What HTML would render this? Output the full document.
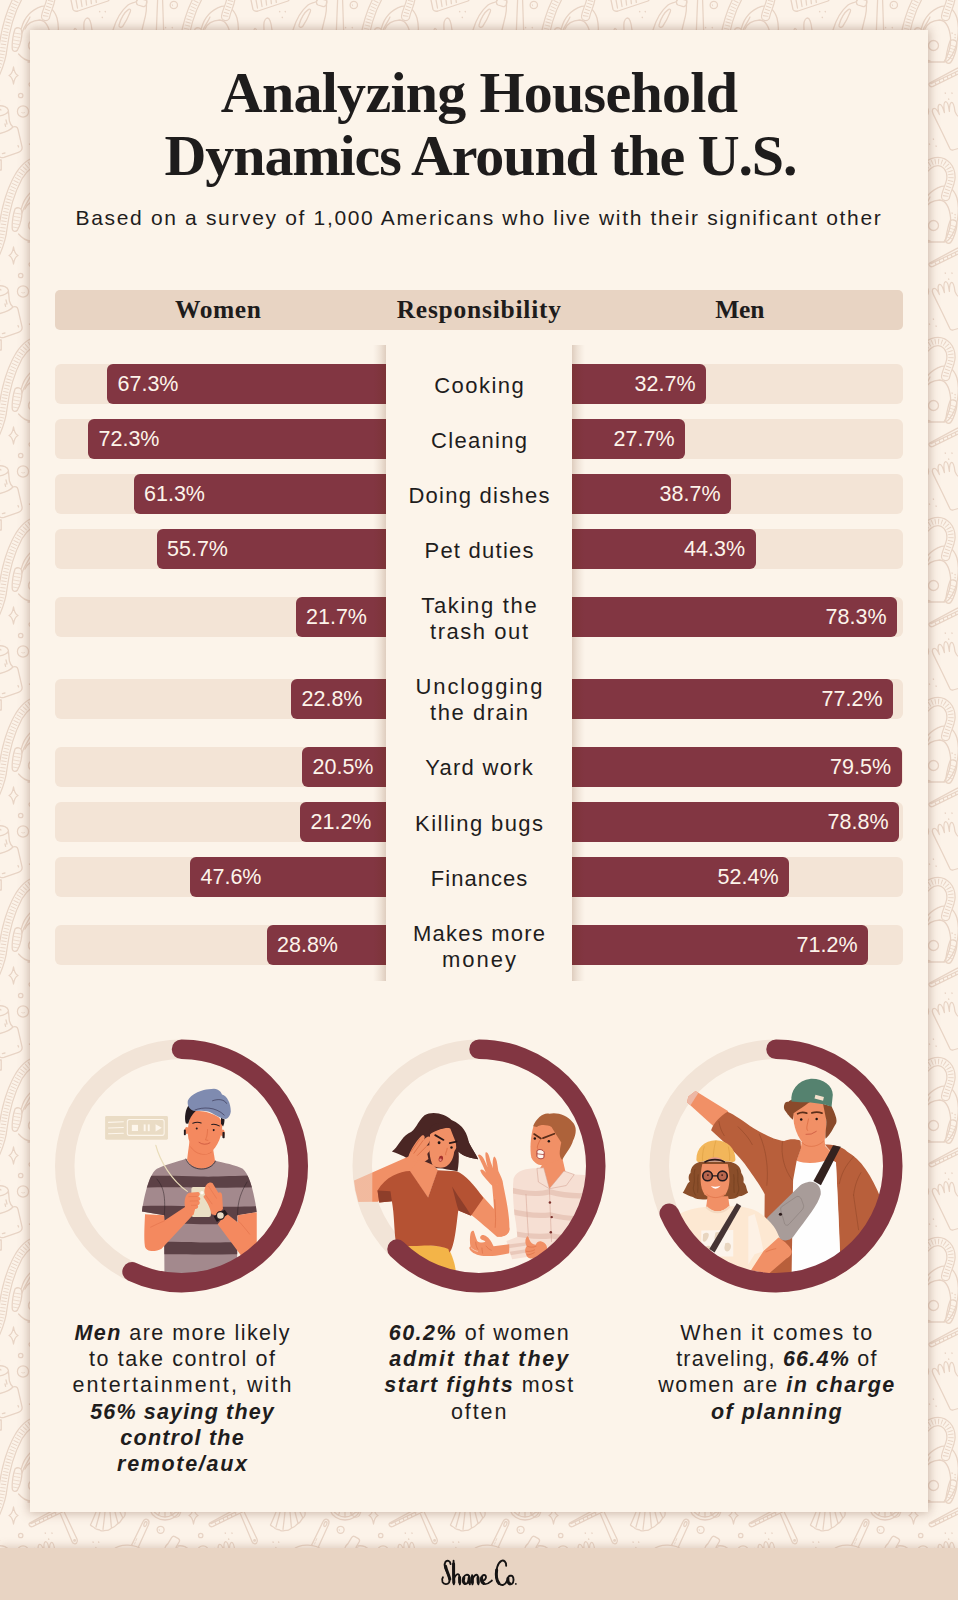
<!DOCTYPE html>
<html lang="en">
<head>
<meta charset="utf-8">
<title>Analyzing Household Dynamics Around the U.S.</title>
<style>
*{box-sizing:border-box;margin:0;padding:0}
html,body{width:958px;height:1600px;overflow:hidden}
body{position:relative;background:#fcf3e9;font-family:"Liberation Sans",sans-serif;color:#1f1d1d}
#bgpat{position:absolute;left:0;top:0;width:958px;height:1600px}
#card{position:absolute;left:30px;top:30px;width:898px;height:1482px;background:#fcf4ea;box-shadow:0 0 10px 1px rgba(130,90,70,.42)}
#footer{position:absolute;left:0;top:1548px;width:958px;height:52px;background:#e8d4c3;box-shadow:0 -2px 8px rgba(150,110,90,.28)}
.abs{position:absolute}
h1{position:absolute;left:0;width:958px;text-align:center;font-family:"Liberation Serif",serif;font-weight:bold;color:#1e1c1c;white-space:nowrap;line-height:1}
#sub{position:absolute;left:0;width:958px;top:205px;text-align:center;font-size:21px;letter-spacing:1.66px;line-height:26px;white-space:nowrap;color:#1f1d1d}
#hdr{position:absolute;left:55px;top:290px;width:848px;height:40px;background:#e8d4c3;border-radius:5px}
.hl{position:absolute;top:290px;height:40px;line-height:40px;text-align:center;font-family:"Liberation Serif",serif;font-weight:bold;font-size:25.5px;color:#1e1c1c;white-space:nowrap}
.trk{position:absolute;left:55px;width:848px;height:40px;background:#f3e4d6;border-radius:6px}
.bar{position:absolute;height:40px;background:#823642;color:#fdf4ea;font-size:21.5px;line-height:40px;white-space:nowrap}
.bw{border-radius:6px 0 0 6px;padding-left:10.5px;text-align:left}
.bm{border-radius:0 6px 6px 0;padding-right:10.5px;text-align:right;left:572px}
#mid{position:absolute;left:386px;top:345px;width:186px;height:636px;background:#fcf4ea}
.sh{position:absolute;top:345px;width:13px;height:636px}
.lab{position:absolute;left:379px;width:200px;text-align:center;font-size:22px;line-height:26px;color:#1f1d1d;white-space:nowrap}
.cap{position:absolute;width:300px;text-align:center;font-size:21.5px;line-height:26px;color:#1f1d1d;white-space:nowrap}
.cap b{font-style:italic;font-weight:bold}
</style>
</head>
<body>
<svg id="bgpat" width="958" height="1600" viewBox="0 0 958 1600">
<defs>
<pattern id="doodle" width="180" height="180" patternUnits="userSpaceOnUse">
<g fill="none" stroke="#e8d4c5" stroke-width="1.3" stroke-linecap="round" stroke-linejoin="round">
 <!-- hose (ribbed band) wraps from bottom of tile to top -->
 <!-- vacuum cleaner -->
 <path d="M21.4,28.4 C24,18 31,10 41.5,6.3 C48,5 54,9 57,18 C60,30 58,48 50,58 C48,61 46,62 44,62 L28,62"/>
 <path d="M21.4,208.4 C24,198 31,190 41.5,186.3 C48,185 54,189 57,198"/>
 <path d="M24.8,29.2 C27,24 32,20.5 39.8,20 C45,20.5 49,24 50.6,37.6 C51,45 49,54 44,61.8"/>
 <circle cx="33.5" cy="45.5" r="5"/>
 <path d="M50,41 C52,39 55.5,40 56.5,42 C58,46 54,58 51,62 C49.5,64 46.5,63.5 45.8,61.5 C45.5,58 48,46 50,41 Z"/><path d="M48.4,51 L54.6,53 M47.6,54 L53.6,56 M47,57 L52.6,59 M49.4,48 L55.4,50 M50.2,45 L56,47" stroke-width=".8"/>
 <path d="M15,29 C17,27 20.5,27.5 21.5,30 C23,35 20,46 17.5,50 C16,52 13,51.6 12.4,49.5 C11.6,45 13,34 15,29 Z"/><path d="M14.5,33 L20.5,34 M14,36.5 L20,37.5 M13.6,40 L19.4,41 M13.2,43.5 L18.6,44.5 M13,47 L18,48" stroke-width=".8"/>
 <path d="M22,33 C24,26 28,22 30,17 M18.6,54 C22,58 26,60.5 30,61"/>
 <path d="M52,33 L52.2,33.2 M55,34.5 L55.2,34.7 M55,37.5 L55.2,37.7" stroke-width="1.3"/>
 <g id="hoseB"><path d="M45.6,196.5 C46.5,190 51,184 51,177 C51,168 45,161.5 38,161.5 C30,161.5 24,168 19,176 C12,188 6,205 3,228 C2,238 -1,246 -4,253" stroke-width="9.4"/><path d="M45.6,196.5 C46.5,190 51,184 51,177 C51,168 45,161.5 38,161.5 C30,161.5 24,168 19,176 C12,188 6,205 3,228 C2,238 -1,246 -4,253" stroke="#fcf3e9" stroke-width="7"/><path d="M45.6,196.5 C46.5,190 51,184 51,177 C51,168 45,161.5 38,161.5 C30,161.5 24,168 19,176 C12,188 6,205 3,228 C2,238 -1,246 -4,253" stroke-width="5.4" stroke-dasharray=".9 2.3" stroke-linecap="butt"/></g>
 <use href="#hoseB" transform="translate(0,-180)"/><use href="#hoseB" transform="translate(180,-180)"/>
 <!-- broom head (top, wraps) -->
 <path d="M71,0 L73,9.5 C74,11.5 76,11.5 78,11 L108,1 L109,0 M76,0 L77.5,8 M81,0 L82,6.5 M86,0 L86.6,5 M91,0 L91.4,3.6 M96,0 L96.3,2.4"/>
 <path d="M71,180 L70,172 C78,168 96,165 110,168 L109,180 M76,180 L75.4,172 M81,180 L80.6,171 M86,180 L85.8,170 M91,180 L91,169.4 M96,180 L96.2,169 M101,180 L101.4,168.6 M105.4,180 L106,168.6"/>
 <path d="M99.6,11.5 L99.8,11.7 M105.2,11.5 L105.4,11.7 M102.2,17.3 L102.4,17.5" stroke-width="1.4"/>
 <!-- glove (top-centre) fingertips -->
 <path d="M84,30 C83.4,24 84.5,19 87,18 C89.6,17.6 91,22 92,30 M74,30 C74.5,28 75.5,27.6 76.4,30"/>
 <!-- detergent bottle -->
 <path d="M113,30 C116,20 122,10 128,5 C130,3.4 133,3 136.4,1.5 L137.4,0 M146.8,0 L146.4,3.6 C146.6,8 146.4,12 145.4,16 L142,30"/>
 <path d="M136.6,1 C137,-1 139,-1.6 141,-1.2 L145.4,0 C147,0.6 147.2,2 146.6,3.8 C146,6 144.4,7 142.4,6.4 L138,5 C136.4,4.2 136.2,2.6 136.6,1 Z"/>
 <path d="M136.6,181 C137,179 139,178.4 141,178.8 L145.4,180 C147,180.6 147.2,182 146.6,183.8"/>
 <path d="M119,25 C121,18 125,12 128.6,9.4 C130,8.6 131,9.6 130.4,11.4 C128.6,16 125,23 122.6,26.6 C121,28 118.6,27.4 119,25 Z"/>
 <!-- mop stick -->
 <path d="M157.6,0 L156.4,30 M162.6,0 L163.6,30 M158.5,-1 L161.8,-1 M157.6,180 L158,176 C158.4,174.6 161.4,174.6 162,176 L162.6,180"/>
 <path d="M165.5,27.5 L165.7,27.7 M172.2,27.5 L172.4,27.7" stroke-width="1.4"/>
 <circle cx="173.8" cy="5" r="3.7"/><path d="M172.3,4.6 L172.6,5.8" stroke-width=".8"/>
 <!-- sparkle -->
 <path d="M13.5,67 C14.2,72 15.4,74.2 18,75.5 C15.4,76.8 14.2,79 13.5,84 C12.8,79 11.6,76.8 9,75.5 C11.6,74.2 12.8,72 13.5,67 Z"/>
 <!-- bubbles -->
 <circle cx="20.7" cy="95.5" r="2.2"/><circle cx="23" cy="111.5" r="5.6"/><path d="M21.6,112.6 C22.4,113.2 23.6,113.2 24.6,112.6" stroke-width=".8"/>
 <!-- spray-bottle / cap thing on left edge -->
 <path d="M-2,106 C3,105 8,107.4 8.4,110.4 C8.6,113 4,115.6 -2,116 M8.4,111 L9.4,121 C10,123.4 11.4,125.6 13,127 M-2,134 C4,132.6 10,130.6 13,127 C15.4,126 17.4,127 18,129.4 L22,146.6 C22.6,149.6 21,151.4 18.4,152.4 L4,157.4 C2,158 0,157.4 -1,156 M6,120 L7,124 M5,124 L5.6,126.4 M18,145.6 L18.6,147 M2.4,153.6 L5,153"/>
 <path d="M178,106 C183,105 188,107.4 188.4,110.4 C188.6,113 184,115.6 178,116 M178,134 C181,133.4 183,133 185,132.4 M178,157 C179,157.6 180,157.8 181,157.6"/>
 <path d="M-1,160 L1.2,160 L1.2,170 L-1,170 M179,160 L181.2,160 L181.2,170 L179,170"/>
 <!-- brush with handle -->
 <path d="M29.4,85.4 C28.6,84.4 29,83.4 30.4,82.6 L57,68.4 C59,67.4 60.6,67.6 61.4,69 L62.4,72 L33,86.4 C31.4,87 30,86.6 29.4,85.4 Z M31,83.6 L60,70 M36,84.8 L35.4,83 M40,83 L39.4,81 M44,81 L43.4,79 M48,79 L47.4,77 M52,77 L51.4,75 M56,75 L55.4,73"/>
 <path d="M60.4,74 L72,101.6 C73,104 75.4,104.4 76.6,103 C77.6,102 77.6,100.6 77,99 L64.4,72.4"/><circle cx="74.6" cy="100.4" r=".8"/>
 <path d="M45.2,93.1 L45.4,93.3 M51.9,93.1 L52.1,93.3 M48.6,99 L48.8,99.2" stroke-width="1.4"/>
 <!-- glove -->
 <path d="M33,113.6 C31.6,110.6 32.4,108.4 34.4,108.4 C36,108.4 37.6,110.6 39.4,114.6 C37.6,109.6 37.6,105 39.6,104.4 C41.6,104 43,107.6 44.4,112.6 C43.6,107 43.6,102 45.6,101.6 C47.6,101.4 48.6,105.4 49.4,111.4 C49.4,106.4 49.8,102.6 51.6,102.4 C53.6,102.4 54.4,106.6 55,111.6 C56,114.6 57.6,116.4 59.6,117.6 M33,113.6 C37,122 44,136 49.4,147.6 C50,149.6 51.4,150.4 53,150 L60,148"/>
 <path d="M33.3,139 L33.5,139.2 M29.4,144 L29.6,144.2 M36,146 L36.2,146.2" stroke-width="1.4"/>
 <!-- feather duster / shell -->
 <path d="M96,72 C94,77 92,82 90.4,85 C92,87 94,86.6 95,88.4 C96.6,90 99,89 100.6,90.6 C102.6,91.6 105,90 107,90.4 C109.4,90.4 110.6,88 113,87.4 C115.4,87 116,84.4 118.4,83.4 C120.6,82.4 121,79.6 123,78 C125,76.4 125.4,74 125,72 M100,72 C98.6,78 97,83 96,87 M105,72 C104.4,78 103.6,84 103,89.4 M110,72 C110.6,78 111,83 111.4,87.4 M115,72 C116,76 117,80 118,83 M120,72 C121,74 122,76 122.6,77.6"/>
 <path d="M93,102 L93.2,102.2 M98.6,102 L98.8,102.2 M95.8,107.6 L96,107.8" stroke-width="1.4"/>
 <!-- spatula -->
 <path d="M131.4,105.6 L143,81.6 C144,79.4 146,78.6 147.6,79.6 C149,80.6 149.4,82.4 148.6,84.4 L138.6,106.4 M113,110 C116,107 122,105 128,105.2 C134,105.4 139,107 142,110"/><ellipse cx="145.4" cy="84" rx="1.3" ry="2.6" transform="rotate(22 145.4 84)"/><path d="M134.6,104 L135.4,102 M136,100.6 L136.8,98.6" stroke-width=".8"/>
 <circle cx="160.6" cy="89.8" r="3.5"/><path d="M159.2,89.4 L159.4,90.6" stroke-width=".8"/>
 <!-- citrus slice -->
 <path d="M150,70 C152,76 158,80 165,80 C172,80 178,76 180,70 M153,70 C155,74 160,77 165,77 C170,77 175,74 177,70 M165,70 L165,77 M160,70 L158.6,75.4 M170,70 L171.4,75.4 M156,70 L154.6,72.6 M174,70 L175.4,72.6"/>
 <!-- small bottle cap bottom-right -->
 <path d="M168,103.6 L171.6,97.6 C172.4,96.4 173.6,96 174.8,96.6 L178.4,98.6 C179.6,99.4 179.8,100.6 179.2,101.8 L176,107.4 M168,103.6 C166,105 165,107 164.6,110 M176,107.4 C178,108 179.4,109 181,110"/>
 <path d="M-12,103.6 L-8.4,97.6 C-7.6,96.4 -6.4,96 -5.2,96.6 L-1.6,98.6 C-0.4,99.4 -0.2,100.6 -0.8,101.8 L-4,107.4 C-2,108 -0.6,109 1,110"/>
</g>
</pattern>
</defs>
<rect x="0" y="0" width="958" height="1600" fill="url(#doodle)"/>
</svg>

<div id="card"></div>
<div id="footer"></div>

<h1 id="t1" style="top:63.5px;font-size:58px;letter-spacing:-.72px">Analyzing Household</h1>
<h1 id="t2" style="left:1.5px;top:127px;font-size:58px;letter-spacing:-1.09px">Dynamics Around the U.S.</h1>
<div id="sub">Based on a survey of 1,000 Americans who live with their significant other</div>

<div id="hdr"></div>
<div class="hl" style="left:175px;letter-spacing:.58px">Women</div>
<div class="hl" style="left:396.7px;letter-spacing:.76px">Responsibility</div>
<div class="hl" style="left:715.3px;letter-spacing:-.27px">Men</div>

<!-- ROWS -->
<div id="rows">
<div class="trk" style="top:364px"></div>
<div class="bar bw" style="top:364px;left:107px;width:283px">67.3%</div>
<div class="bar bm" style="top:364px;width:134px">32.7%</div>
<div class="trk" style="top:419px"></div>
<div class="bar bw" style="top:419px;left:88px;width:302px">72.3%</div>
<div class="bar bm" style="top:419px;width:113px">27.7%</div>
<div class="trk" style="top:474px"></div>
<div class="bar bw" style="top:474px;left:133.5px;width:256.5px">61.3%</div>
<div class="bar bm" style="top:474px;width:159px">38.7%</div>
<div class="trk" style="top:529px"></div>
<div class="bar bw" style="top:529px;left:156.5px;width:233.5px">55.7%</div>
<div class="bar bm" style="top:529px;width:183.5px">44.3%</div>
<div class="trk" style="top:597px"></div>
<div class="bar bw" style="top:597px;left:295.5px;width:94.5px">21.7%</div>
<div class="bar bm" style="top:597px;width:325px">78.3%</div>
<div class="trk" style="top:678.5px"></div>
<div class="bar bw" style="top:678.5px;left:291px;width:99px">22.8%</div>
<div class="bar bm" style="top:678.5px;width:321px">77.2%</div>
<div class="trk" style="top:746.5px"></div>
<div class="bar bw" style="top:746.5px;left:302px;width:88px">20.5%</div>
<div class="bar bm" style="top:746.5px;width:329.5px">79.5%</div>
<div class="trk" style="top:802px"></div>
<div class="bar bw" style="top:802px;left:300px;width:90px">21.2%</div>
<div class="bar bm" style="top:802px;width:327px">78.8%</div>
<div class="trk" style="top:857px"></div>
<div class="bar bw" style="top:857px;left:190px;width:200px">47.6%</div>
<div class="bar bm" style="top:857px;width:217px">52.4%</div>
<div class="trk" style="top:925px"></div>
<div class="bar bw" style="top:925px;left:266.5px;width:123.5px">28.8%</div>
<div class="bar bm" style="top:925px;width:296px">71.2%</div>
</div>

<div id="mid"></div>
<div class="sh" style="left:373px;background:linear-gradient(to left,rgba(96,38,3,.19),rgba(96,38,3,.09) 40%,rgba(96,38,3,.03) 75%,rgba(96,38,3,0))"></div>
<div class="sh" style="left:572px;background:linear-gradient(to right,rgba(96,38,3,.19),rgba(96,38,3,.09) 40%,rgba(96,38,3,.03) 75%,rgba(96,38,3,0))"></div>

<!-- LABELS -->
<div id="labels">
<div class="lab" style="top:372.7px;letter-spacing:1.46px;padding-left:1.46px">Cooking</div>
<div class="lab" style="top:427.7px;letter-spacing:1.28px;padding-left:1.28px">Cleaning</div>
<div class="lab" style="top:482.7px;letter-spacing:1.26px;padding-left:1.26px">Doing dishes</div>
<div class="lab" style="top:537.7px;letter-spacing:1.25px;padding-left:1.25px">Pet duties</div>
<div class="lab" style="top:592.7px;letter-spacing:1.69px;padding-left:1.69px">Taking the</div>
<div class="lab" style="top:618.7px;letter-spacing:1.55px;padding-left:1.55px">trash out</div>
<div class="lab" style="top:674.2px;letter-spacing:1.86px;padding-left:1.86px">Unclogging</div>
<div class="lab" style="top:700.2px;letter-spacing:1.55px;padding-left:1.55px">the drain</div>
<div class="lab" style="top:755.2px;letter-spacing:1.27px;padding-left:1.27px">Yard work</div>
<div class="lab" style="top:810.7px;letter-spacing:1.39px;padding-left:1.39px">Killing bugs</div>
<div class="lab" style="top:865.7px;letter-spacing:1.02px;padding-left:1.02px">Finances</div>
<div class="lab" style="top:920.7px;letter-spacing:1.22px;padding-left:1.22px">Makes more</div>
<div class="lab" style="top:946.7px;letter-spacing:2.04px;padding-left:2.04px">money</div>
</div>

<!-- DONUTS -->
<div id="donuts">
<svg class="abs" style="left:46px;top:1031px" width="271" height="271" viewBox="46 1031 271 271">
<defs>
<clipPath id="c1"><circle cx="181.5" cy="1166" r="117"/></clipPath>
<clipPath id="shirt1"><path id="shirt1p" d="M445,70 C380,95 270,120 215,150 C160,185 120,330 95,490 L272,521 L275,1000 L855,1000 L857,521 L1012,495 C990,330 950,190 900,150 C850,120 740,100 680,85 C640,165 500,175 445,70 Z"/></clipPath>
</defs>
<circle cx="181.5" cy="1166" r="116.75" fill="none" stroke="#f2e4d7" stroke-width="19.5"/>
<g clip-path="url(#c1)">
 <!-- player widget + head : coords of zoom C -->
 <g transform="translate(100,1080) scale(0.146137)">
  <rect x="35" y="247" width="430" height="162" rx="10" fill="#eadcc5"/>
  <rect x="187" y="271" width="252" height="108" rx="14" fill="none" stroke="#fdf6ec" stroke-width="7"/>
  <path d="M58,290 L160,286 M58,328 L160,325 M58,368 L160,365" stroke="#fdf6ec" stroke-width="7" stroke-linecap="round" fill="none"/>
  <rect x="218" y="307" width="42" height="42" fill="#fdf6ec"/>
  <rect x="299" y="304" width="13" height="46" fill="#fdf6ec"/><rect x="327" y="304" width="13" height="46" fill="#fdf6ec"/>
  <path d="M380,302 L380,352 L423,327 Z" fill="#fdf6ec"/>
  <!-- neck -->
  <path d="M612,420 L596,545 C640,640 760,630 788,560 L772,460 Z" fill="#f4895f"/>
  <path d="M618,455 C655,512 720,522 765,492" fill="none" stroke="#de6c47" stroke-width="4"/>
  <!-- ears -->
  <ellipse cx="594" cy="345" rx="14" ry="24" fill="#f4895f"/>
  <ellipse cx="840" cy="362" rx="13" ry="24" fill="#f4895f"/>
  <rect x="574" y="338" width="13" height="40" rx="5" fill="#231a1e"/>
  <rect x="838" y="356" width="15" height="42" rx="5" fill="#231a1e"/>
  <!-- face -->
  <path d="M640,212 C610,250 594,330 605,400 C620,462 680,512 730,506 C790,490 830,400 836,330 C839,290 830,262 800,248 C740,213 690,210 640,212 Z" fill="#f4895f"/>
  <!-- hair -->
  <path d="M608,172 C585,195 575,260 588,298 L604,300 C610,270 630,235 655,212 Z" fill="#231a1e"/>
  <path d="M828,258 L852,268 C852,290 848,305 842,318 L828,300 Z" fill="#231a1e"/>
  <!-- hat -->
  <path d="M600,150 C605,110 680,62 780,60 C815,62 830,85 835,100 C870,110 895,160 895,215 C890,250 870,270 850,266 C820,262 790,235 740,216 C700,205 660,215 640,210 C615,200 598,180 600,150 Z" fill="#7f8bb0"/>
  <path d="M770,142 C800,130 850,128 866,160 M650,205 C700,185 790,180 850,240" fill="none" stroke="#2e2a45" stroke-width="4" stroke-linecap="round"/>
  <!-- face details -->
  <path d="M635,296 C655,288 675,288 692,294 M764,304 C782,300 800,304 816,314" fill="none" stroke="#231a1e" stroke-width="7" stroke-linecap="round"/>
  <circle cx="662" cy="332" r="7" fill="#231a1e"/><circle cx="778" cy="343" r="7" fill="#231a1e"/>
  <path d="M736,338 C736,380 726,398 722,410 L738,413" fill="none" stroke="#d9673f" stroke-width="4" stroke-linecap="round"/>
  <path d="M678,427 Q715,452 752,430" fill="none" stroke="#c4503a" stroke-width="5" stroke-linecap="round"/>
 </g>
 <!-- torso : coords of zoom B -->
 <g transform="translate(130,1150) scale(0.125261)">
  <use href="#shirt1p" fill="#a3898d"/>
  <g clip-path="url(#shirt1)" fill="#5c4146">
   <path d="M0,212 C200,200 400,205 560,212 C700,216 850,205 1100,200 L1100,296 C900,300 700,305 560,300 C400,296 200,296 0,304 Z"/>
   <path d="M0,452 C200,440 400,446 560,452 C700,456 850,452 1100,446 L1100,590 C900,590 700,596 560,592 C400,588 200,590 0,592 Z"/>
   <path d="M0,738 C200,730 400,734 560,738 C700,740 850,736 1100,734 L1100,830 C900,832 700,836 560,834 C400,830 200,832 0,834 Z"/>
  </g>
  <path d="M447,72 C490,182 650,172 682,88" fill="none" stroke="#2c2024" stroke-width="6" stroke-linecap="round"/>
  <path d="M215,232 C262,292 286,345 274,520 M935,255 C888,332 860,402 858,520" fill="none" stroke="#2c2024" stroke-width="4" stroke-linecap="round"/>
  <!-- wire -->
  <path d="M206,-38 C240,90 330,240 458,330" fill="none" stroke="#e9dcb9" stroke-width="9" stroke-linecap="round"/>
  <!-- phone -->
  <rect x="490" y="295" width="156" height="240" rx="16" fill="#eadfc4"/>
  <circle cx="575" cy="342" r="14" fill="#fdf8f0"/>
  <!-- left arm -->
  <path d="M120,513 L272,521 L276,562 L445,452 L508,512 L252,788 C200,815 130,815 119,768 C110,700 116,600 120,513 Z" fill="#f4895f"/>
  <path d="M165,616 C200,598 240,580 274,566" fill="none" stroke="#de6c47" stroke-width="4" stroke-linecap="round"/>
  <!-- left hand -->
  <path d="M440,462 C428,400 445,352 472,342 L545,336 C562,342 560,366 545,371 C567,377 566,402 548,406 C563,414 558,440 540,441 C551,452 540,472 520,471 L508,514 L458,502 Z" fill="#f4895f"/>
  <path d="M470,372 L535,371 M480,408 L540,406 M490,442 L532,441" stroke="#e0704a" stroke-width="4" stroke-linecap="round" fill="none"/>
  <!-- right arm -->
  <path d="M859,520 L1012,497 L1012,920 L900,860 L700,592 L768,505 L862,578 Z" fill="#f4895f"/>
  <path d="M860,562 C900,600 930,640 955,672" fill="none" stroke="#de6c47" stroke-width="4" stroke-linecap="round"/>
  <!-- right hand -->
  <path d="M600,300 C606,268 640,248 660,266 L705,342 C722,328 737,345 736,372 L742,472 L692,522 L650,512 C640,452 604,402 590,382 C584,370 590,358 601,362 C590,340 592,320 600,300 Z" fill="#f4895f"/>
  <path d="M628,290 L690,385 M605,362 L655,430" stroke="#e0704a" stroke-width="4" stroke-linecap="round" fill="none"/>
  <!-- watch -->
  <path d="M668,530 L756,478 L782,512 L694,574 Z" fill="#231a1e"/>
  <circle cx="722" cy="523" r="31" fill="#e9dcc6" stroke="#231a1e" stroke-width="9"/>
 </g>
</g>
<circle cx="181.5" cy="1166" r="116.75" fill="none" stroke="#823642" stroke-width="19.5" stroke-linecap="round" stroke-dasharray="417.7 733.6" transform="rotate(-90 181.5 1166)"/>
</svg>
<svg class="abs" style="left:343px;top:1031px" width="272" height="271" viewBox="343 1031 272 271">
<defs>
<clipPath id="c2"><circle cx="479" cy="1166" r="126"/></clipPath>
<clipPath id="mshirt"><path id="mshirtp" d="M490,385 C430,385 378,395 358,442 C350,520 358,620 372,700 L380,770 L318,795 L350,898 L452,882 L560,900 L900,900 L900,430 L700,420 L640,400 L560,500 Z"/></clipPath>
<linearGradient id="fadearm" gradientUnits="userSpaceOnUse" x1="100" y1="0" x2="150" y2="0"><stop offset="0" stop-color="#f19066" stop-opacity=".5"/><stop offset=".5" stop-color="#f19066" stop-opacity=".5"/><stop offset=".55" stop-color="#f19066" stop-opacity="1"/><stop offset="1" stop-color="#f19066"/></linearGradient>
</defs>
<circle cx="479" cy="1166" r="116.75" fill="none" stroke="#f2e4d7" stroke-width="19.5"/>
<g clip-path="url(#c2)">
 <!-- MAN : zoom E coords -->
 <g transform="translate(450,1100) scale(0.17746)">
  <use href="#mshirtp" fill="#f6dfd3"/>
  <g clip-path="url(#mshirt)" fill="#e9c8ba">
   <path d="M340,492 C420,512 500,522 560,502 C640,522 720,532 820,520 L820,548 C720,562 640,552 560,532 C500,548 420,542 340,524 Z"/>
   <path d="M340,612 C420,632 500,642 565,632 C640,652 720,660 820,646 L820,674 C720,690 640,680 565,662 C500,670 420,662 340,644 Z"/>
   <path d="M340,735 C420,750 500,760 570,750 C640,765 720,770 820,760 L820,788 C720,800 640,792 570,780 C500,788 420,780 340,765 Z"/>
   <path d="M325,815 L440,800 L443,818 L330,835 Z M335,855 L447,838 L450,856 L340,875 Z"/>
  </g>
  <path d="M428,530 C432,600 436,680 442,765 M560,500 C566,600 566,700 572,800" fill="none" stroke="#d4a191" stroke-width="3"/>
  <!-- neck -->
  <path d="M525,355 L632,322 L650,402 L560,500 L498,400 Z" fill="#f19066"/>
  <!-- collar -->
  <path d="M490,385 L498,462 L560,500 L528,382 Z M642,400 L700,420 L655,482 L560,500 Z" fill="#f6dfd3" stroke="#d4a191" stroke-width="3" stroke-linejoin="round"/>
  <circle cx="563" cy="578" r="7" fill="#7a2f2a"/><circle cx="573" cy="660" r="7" fill="#7a2f2a"/><circle cx="568" cy="745" r="7" fill="#7a2f2a"/>
  <!-- ear, face -->
  <ellipse cx="628" cy="272" rx="19" ry="31" fill="#f19066"/>
  <path d="M470,150 C455,200 448,280 458,322 C470,352 500,372 532,366 L628,332 C650,290 648,245 640,200 C620,150 570,118 522,120 Z" fill="#f19066"/>
  <!-- hair -->
  <path d="M468,148 C488,100 530,68 560,78 C600,68 660,84 690,124 C716,150 713,190 693,230 C686,260 660,290 632,338 C613,320 616,290 627,240 C612,215 590,182 572,152 C550,140 510,136 490,152 Z" fill="#ad623a"/>
  <path d="M474,192 L512,217 M524,215 L588,190" stroke="#5a2e1a" stroke-width="10" stroke-linecap="round" fill="none"/>
  <circle cx="478" cy="217" r="7" fill="#1e1414"/><circle cx="557" cy="233" r="7" fill="#1e1414"/>
  <path d="M506,228 C496,250 488,265 493,273" fill="none" stroke="#d8683f" stroke-width="4" stroke-linecap="round"/>
  <path d="M490,285 C505,274 525,280 531,295 L529,325 C515,336 495,331 490,318 Z" fill="#fdf6ee" stroke="#a3302c" stroke-width="5" stroke-linejoin="round"/>
  <path d="M490,303 L530,308" stroke="#a3302c" stroke-width="4"/>
 </g>
 <!-- man's hands : zoom J coords -->
 <g transform="translate(460,1220) scale(0.104384)">
  <path d="M472,232 L322,252 C300,200 270,155 230,145 C200,142 185,165 198,182 C212,196 232,190 244,208 C220,222 180,216 165,200 C150,170 142,130 132,106 C118,96 104,110 100,135 C92,170 95,220 100,255 C86,258 86,276 100,292 C130,326 190,346 250,346 C330,346 420,332 472,318 Z" fill="#f19066"/>
  <path d="M150,212 C152,240 158,262 172,282 M210,268 C212,290 214,305 216,318 M250,250 C262,268 280,282 300,290" fill="none" stroke="#d8683f" stroke-width="5" stroke-linecap="round"/>
  <path d="M108,268 C125,286 150,298 168,300" fill="none" stroke="#fbe3d6" stroke-width="6" stroke-linecap="round"/>
  <path d="M640,160 C625,180 620,222 640,250 C620,270 618,310 635,332 C640,362 680,377 720,366 L832,292 C842,250 820,215 780,205 C760,200 735,210 725,236 C700,236 670,215 656,165 C652,152 644,152 640,160 Z" fill="#f19066"/>
  <path d="M642,250 C670,264 700,264 728,252 M634,300 C660,305 690,300 715,286 M640,335 C665,335 690,325 712,312" fill="none" stroke="#d8683f" stroke-width="5" stroke-linecap="round"/>
 </g>
 <!-- WOMAN : zoom D coords -->
 <g transform="translate(350,1100) scale(0.17746)">
  <!-- hair back -->
  <path d="M236,290 C270,270 285,215 330,188 C372,172 378,122 420,86 C470,58 540,82 572,112 C640,140 662,192 670,240 C688,282 708,300 722,334 C682,326 642,322 612,292 C615,330 612,370 606,402 C560,396 520,382 480,386 L420,386 C392,366 362,352 342,346 C322,322 292,312 236,290 Z" fill="#4a2624"/>
  <!-- raised arm -->
  <path d="M20,455 L330,318 L432,288 L442,332 L346,400 L240,500 L158,573 L20,575 Z" fill="url(#fadearm)"/>
  <!-- neck/chest -->
  <path d="M395,335 L472,368 L496,396 L440,552 L334,400 Z" fill="#f19066"/>
  <!-- face -->
  <path d="M452,190 C485,165 540,150 566,160 C578,200 600,232 598,262 C602,275 586,285 586,300 C580,340 560,366 535,378 C505,386 478,378 466,368 C450,330 440,280 452,190 Z" fill="#f19066"/>
  <!-- hair front -->
  <path d="M452,192 C440,180 450,150 470,140 C510,120 560,130 575,160 C555,150 500,162 452,192 Z" fill="#4a2624"/>
  <path d="M565,160 C600,200 612,250 612,292 C640,320 680,326 722,334 C700,290 680,260 670,240 C650,180 610,150 565,160 Z" fill="#4a2624"/>
  <path d="M480,198 L527,225 M562,243 L600,234" stroke="#2a1716" stroke-width="10" stroke-linecap="round" fill="none"/>
  <circle cx="502" cy="241" r="8" fill="#1e1414"/><circle cx="572" cy="268" r="7" fill="#1e1414"/>
  <path d="M548,272 C546,290 535,300 539,309" fill="none" stroke="#d8683f" stroke-width="4" stroke-linecap="round"/>
  <ellipse cx="512" cy="331" rx="12" ry="17" fill="#a3302c" transform="rotate(15 512 331)"/>
  <ellipse cx="510" cy="337" rx="7" ry="8" fill="#e8877a"/>
  <!-- hand on head -->
  <path d="M328,322 C340,280 380,222 405,200 C420,194 426,210 416,226 C430,205 450,199 453,215 C456,226 440,246 431,260 C446,250 461,255 456,271 C450,292 430,312 410,322 C390,342 360,352 344,346 Z" fill="#f19066"/>
  <path d="M360,300 L412,228 M380,312 L430,262 M345,290 L392,222" stroke="#d8683f" stroke-width="4" fill="none" stroke-linecap="round"/>
  <!-- skirt -->
  <path d="M300,800 L552,830 C578,880 590,920 596,962 L300,962 Z" fill="#f3b448"/>
  <path d="M660,630 L735,530 C800,600 870,680 898,720 C906,760 860,776 830,770 C790,740 730,682 660,630 Z" fill="#f19066"/>
  <!-- shirt -->
  <path d="M338,400 C280,402 200,432 155,510 L165,577 L236,570 C250,650 248,720 258,800 C300,824 340,826 400,821 C460,816 520,824 554,840 L560,860 C590,830 600,700 610,622 L682,652 L752,552 C700,480 650,420 600,402 L494,396 L440,550 Z" fill="#b55233"/>
  <path d="M155,510 L165,577 L236,570 L228,514 Z" fill="#8e3e2a"/>
  <path d="M575,488 C590,540 600,590 612,622 L682,652 C660,610 620,560 575,488 Z" fill="#8e3e2a"/>
  <!-- right arm -->
  
  <path d="M800,478 L862,470 C880,560 900,650 898,722 C900,762 850,776 822,766 C815,680 810,560 800,478 Z" fill="#f19066"/>
  <path d="M800,482 C770,450 740,420 734,396 C740,385 756,395 766,410 C750,370 730,330 721,311 C730,300 746,315 756,335 L776,380 C765,340 760,305 765,295 C778,291 786,320 793,350 L806,385 C802,350 805,325 813,318 C826,325 831,360 836,400 C850,430 861,450 863,474 Z" fill="#f19066"/>
  <path d="M815,560 C820,620 822,680 818,720" stroke="#d8683f" stroke-width="3" fill="none"/>
 </g>
</g>
<circle cx="479" cy="1166" r="116.75" fill="none" stroke="#823642" stroke-width="19.5" stroke-linecap="round" stroke-dasharray="457.5 733.6" transform="rotate(-90 479 1166)"/>
</svg>
<svg class="abs" style="left:640px;top:1031px" width="272" height="271" viewBox="640 1031 272 271">
<defs>
<clipPath id="c3"><circle cx="776" cy="1166" r="126"/></clipPath>
</defs>
<circle cx="776" cy="1166" r="116.75" fill="none" stroke="#f2e4d7" stroke-width="19.5"/>
<g clip-path="url(#c3)">
 <!-- MAN body : G coords -->
 <g transform="translate(740,1070) scale(0.17746)">
  <path d="M478,420 C520,420 575,430 605,460 C680,500 745,600 792,720 L700,1250 L572,1250 C562,900 548,650 540,520 L500,502 L522,470 Z" fill="#b85f3b"/>
  <path d="M560,640 C575,560 615,520 640,488 M640,705 C648,640 668,600 682,578 M640,705 L668,900" fill="none" stroke="#8f4527" stroke-width="3" stroke-linecap="round"/>
  <path d="M318,510 C380,532 450,522 500,500 L541,520 L572,1250 L288,1250 L300,620 Z" fill="#fefefe"/>
  <path d="M348,405 L476,385 L480,428 L522,470 L500,504 C450,524 380,534 318,512 L342,442 Z" fill="#f19066"/>
 </g>
 <!-- raised arm + left jacket : F coords -->
 <g transform="translate(660,1070) scale(0.17746)">
  <path d="M160,150 L200,118 L385,232 L300,315 L152,182 Z" fill="#f19066"/>
  <path d="M152,182 L160,150 L200,118 L216,130 L172,198 Z" fill="#ecb7a5"/>
  <path d="M380,235 C420,250 470,290 530,330 C600,370 650,395 700,400 C730,385 770,388 792,398 L795,440 L770,512 L750,620 L740,1250 L585,1250 L590,700 C560,640 520,590 500,560 C440,470 350,400 288,340 C300,300 340,260 380,235 Z" fill="#b85f3b"/>
  <path d="M332,290 C336,320 346,345 362,370 M560,362 C600,450 612,560 602,650 M690,405 C680,480 700,560 745,620 M440,320 C470,350 500,380 520,420" fill="none" stroke="#8f4527" stroke-width="3" stroke-linecap="round"/>
 </g>
 <!-- MAN head, strap, bag : G coords -->
 <g transform="translate(740,1070) scale(0.17746)">
  <path d="M298,242 C320,200 360,165 472,170 C486,240 492,300 480,380 C470,422 420,442 390,434 C350,420 318,370 304,300 Z" fill="#f19066"/>
  <path d="M346,405 C372,440 432,440 472,400" fill="none" stroke="#d8683f" stroke-width="3"/>
  <path d="M248,202 C252,182 262,178 272,180 C280,168 300,162 342,160 L420,165 L385,186 C362,204 332,222 302,244 L298,280 C284,272 278,258 268,250 C262,236 244,226 248,202 Z" fill="#8a4a2b"/>
  <path d="M468,192 L516,204 C532,240 552,280 541,302 C522,332 512,362 482,388 C478,350 494,300 482,262 Z" fill="#8a4a2b"/>
  <path d="M290,178 C284,120 320,60 400,50 C470,48 522,90 523,140 L516,207 C470,190 400,180 340,182 Z" fill="#55826f"/>
  <path d="M425,140 L473,152 L468,173 L420,160 Z" fill="#f3e0cc"/>
  <path d="M325,247 C340,238 360,238 376,243 M405,242 C425,236 445,237 462,243" fill="none" stroke="#5a2e1a" stroke-width="10" stroke-linecap="round"/>
  <circle cx="345" cy="279" r="7" fill="#1e1414"/><circle cx="432" cy="276" r="7" fill="#1e1414"/>
  <path d="M386,276 C380,310 370,330 381,341" fill="none" stroke="#d8683f" stroke-width="4" stroke-linecap="round"/>
  <path d="M372,363 Q402,368 430,346" fill="none" stroke="#c4503a" stroke-width="4" stroke-linecap="round"/>
  <path d="M525,424 L568,432 L456,650 L414,626 Z" fill="#33221f"/>
  <path d="M380,632 C420,620 460,650 455,700 C440,760 380,830 300,940 C280,966 240,966 215,945 L150,880 C138,860 144,840 160,825 L340,650 C350,640 365,635 380,632 Z" fill="#a89c99"/>
  <path d="M235,770 L318,714 C330,708 340,716 346,728 L358,762 C360,772 356,780 350,788 L275,870 C268,878 258,876 252,868 L230,790 C228,780 230,774 235,770 Z" fill="none" stroke="#877a77" stroke-width="3"/>
  <circle cx="228" cy="813" r="9" fill="#2a1a1a"/>
 </g>
 <!-- WOMAN : F coords -->
 <g transform="translate(660,1070) scale(0.17746)">
  <path d="M235,515 C195,520 172,548 172,580 C158,590 160,618 168,628 C150,640 146,668 128,692 C150,700 165,712 185,716 C205,730 240,732 268,728 L385,726 C410,730 432,722 445,712 C465,712 482,700 497,690 C485,672 490,650 470,632 C476,610 466,590 458,580 C458,548 430,520 385,515 Z" fill="#8a4e2a"/>
  <path d="M268,712 L384,712 L392,772 C350,808 300,808 260,772 Z" fill="#f19066"/>
  <path d="M238,530 C224,600 224,660 250,700 C280,732 340,732 370,700 C396,660 396,600 382,530 Z" fill="#f19066"/>
  <path d="M262,700 C290,725 335,725 365,700" fill="none" stroke="#d8683f" stroke-width="3"/>
  <path d="M238,530 C220,570 215,620 222,660 C200,640 190,580 205,530 Z M382,530 C400,570 405,620 398,660 C420,640 430,580 415,530 Z" fill="#8a4e2a"/>
  <path d="M205,505 C205,440 250,398 315,396 C380,398 425,440 425,505 C425,518 415,521 400,517 L360,511 L255,511 L225,519 C210,521 205,515 205,505 Z" fill="#f2b65a"/>
  <path d="M315,398 C305,430 300,470 300,500 M250,430 C240,460 238,490 240,512 M385,432 C392,460 394,490 392,512" fill="none" stroke="#d99a3e" stroke-width="3"/>
  <path d="M266,514 C275,484 345,484 354,514 Z" fill="#e59a8a"/>
  <path d="M254,518 C280,500 340,500 362,518" fill="none" stroke="#2a1a1a" stroke-width="10" stroke-linecap="round"/>
  <circle cx="268" cy="597" r="27" fill="#b9664e" stroke="#231a1e" stroke-width="9"/>
  <circle cx="352" cy="597" r="27" fill="#b9664e" stroke="#231a1e" stroke-width="9"/>
  <path d="M296,596 L324,596" stroke="#231a1e" stroke-width="7"/>
  <circle cx="270" cy="592" r="5" fill="#3a1a14"/><circle cx="350" cy="592" r="5" fill="#3a1a14"/>
  <path d="M286,654 Q313,684 342,652 Q313,662 286,654 Z" fill="#fff"/>
  <path d="M196,560 C186,590 200,620 190,650 C184,670 190,690 200,705 M215,590 C208,620 218,650 212,690 M435,560 C446,590 432,620 442,650 C448,670 442,690 432,705 M415,590 C422,620 412,650 418,690" fill="none" stroke="#6b3a1c" stroke-width="3" stroke-linecap="round"/>
  <!-- tshirt -->
  <path d="M262,770 C200,775 150,790 110,810 L-20,900 L-20,1200 L585,1200 L585,1022 L675,948 C665,925 655,900 640,880 C600,830 560,800 520,785 C480,770 430,765 390,768 C350,806 300,806 262,770 Z" fill="#fde8d2"/>
  <path d="M260,772 C300,812 350,812 392,770" fill="none" stroke="#f3d9c1" stroke-width="12"/>
 </g>
 <!-- bottom details : H coords -->
 <g transform="translate(680,1190) scale(0.17746)">
  <path d="M385,150 L420,135 C440,200 460,280 470,345 L420,362 L385,420 Z" fill="#fdf1e5"/>
  <path d="M120,228 L300,225 L300,375 L120,375 Z" fill="#fcf4ec"/>
  <path d="M130,250 C150,235 170,240 160,265 C150,290 135,300 128,285 Z M200,240 C225,230 245,245 230,270 C215,300 190,290 195,265 Z M255,300 C275,290 295,305 285,330 C275,355 250,350 250,325 Z M140,320 C165,305 185,320 170,345 C155,368 130,360 135,340 Z" fill="#e8d5bf"/>
  <path d="M320,75 L345,90 L195,352 L165,332 Z" fill="#453434"/>
  <path d="M555,268 C590,290 625,320 630,345 C630,366 615,378 600,386 L500,472 L400,452 L470,345 Z" fill="#f19066"/>
  <path d="M482,350 C500,340 520,335 542,330" fill="none" stroke="#d8683f" stroke-width="3"/>
 </g>
</g>
<circle cx="776" cy="1166" r="116.75" fill="none" stroke="#823642" stroke-width="19.5" stroke-linecap="round" stroke-dasharray="501.3 733.6" transform="rotate(-90 776 1166)"/>
</svg>

</div>

<!-- CAPTIONS -->
<div id="caps">
<div class="cap" style="left:32.0px;top:1319.7px;letter-spacing:1.46px;padding-left:1.46px"><b>Men</b> are more likely</div>
<div class="cap" style="left:32.0px;top:1346.0px;letter-spacing:1.59px;padding-left:1.59px">to take control of</div>
<div class="cap" style="left:32.0px;top:1372.3px;letter-spacing:2.07px;padding-left:2.07px">entertainment, with</div>
<div class="cap" style="left:32.0px;top:1398.6px;letter-spacing:1.16px;padding-left:1.16px"><b>56% saying they</b></div>
<div class="cap" style="left:32.0px;top:1424.9px;letter-spacing:1.22px;padding-left:1.22px"><b>control the</b></div>
<div class="cap" style="left:32.0px;top:1451.2px;letter-spacing:1.68px;padding-left:1.68px"><b>remote/aux</b></div>
<div class="cap" style="left:328.7px;top:1319.7px;letter-spacing:1.53px;padding-left:1.53px"><b>60.2%</b> of women</div>
<div class="cap" style="left:328.7px;top:1346.0px;letter-spacing:1.86px;padding-left:1.86px"><b>admit that they</b></div>
<div class="cap" style="left:328.7px;top:1372.3px;letter-spacing:1.58px;padding-left:1.58px"><b>start fights</b> most</div>
<div class="cap" style="left:328.7px;top:1398.6px;letter-spacing:1.92px;padding-left:1.92px">often</div>
<div class="cap" style="left:626.3px;top:1319.7px;letter-spacing:1.73px;padding-left:1.73px">When it comes to</div>
<div class="cap" style="left:626.3px;top:1346.0px;letter-spacing:1.23px;padding-left:1.23px">traveling, <b>66.4%</b> of</div>
<div class="cap" style="left:626.3px;top:1372.3px;letter-spacing:1.56px;padding-left:1.56px">women are <b>in charge</b></div>
<div class="cap" style="left:626.3px;top:1398.6px;letter-spacing:1.49px;padding-left:1.49px"><b>of planning</b></div>
</div>

<!-- LOGO -->
<svg class="abs" style="left:420px;top:1545px" width="120" height="55" viewBox="0 0 958 439">
<g fill="none" stroke="#151313" stroke-width="15" stroke-linecap="round" stroke-linejoin="round">
<path d="M244,152 C242,126 216,117 203,135 C189,156 200,186 215,215 C231,246 244,276 232,299 C220,319 190,316 180,296 C175,284 176,268 183,258"/>
<path d="M268,126 C268,190 268,255 270,314 M270,272 C280,240 300,226 310,236 C318,246 315,282 318,314"/>
<path d="M392,246 C380,232 358,235 350,256 C340,281 345,310 362,312 C378,312 389,290 392,246 C392,272 392,300 398,314"/>
<path d="M416,240 C417,265 418,290 419,314 M419,274 C428,246 448,232 458,241 C466,249 462,286 466,314"/>
<path d="M492,284 C512,286 532,270 526,250 C521,235 500,235 492,256 C484,281 495,310 520,312 C545,312 560,296 574,284"/>
<path d="M688,166 C690,136 670,118 650,126 C620,141 604,200 610,250 C615,300 640,326 665,318 C680,312 690,298 696,284"/>
<path d="M726,246 C708,240 698,262 700,286 C702,309 720,320 735,310 C750,298 750,262 738,249 C732,243 726,245 726,246"/>
</g>
<g fill="none" stroke="#151313" stroke-width="24" stroke-linecap="round">
<path d="M204,170 C210,200 228,235 238,272"/>
<path d="M268,150 C268,200 268,255 270,300"/>
<path d="M316,260 L317,300"/>
<path d="M350,262 C344,280 348,300 356,306"/>
<path d="M393,262 L395,300"/>
<path d="M417,256 L418,300"/>
<path d="M463,262 L465,300"/>
<path d="M492,262 C488,282 496,300 508,306"/>
<path d="M612,200 C606,240 612,285 630,306"/>
<path d="M702,268 C700,290 708,304 716,308"/>
</g>
<circle cx="765" cy="311" r="7" fill="#151313"/>
</svg>

</body>
</html>
